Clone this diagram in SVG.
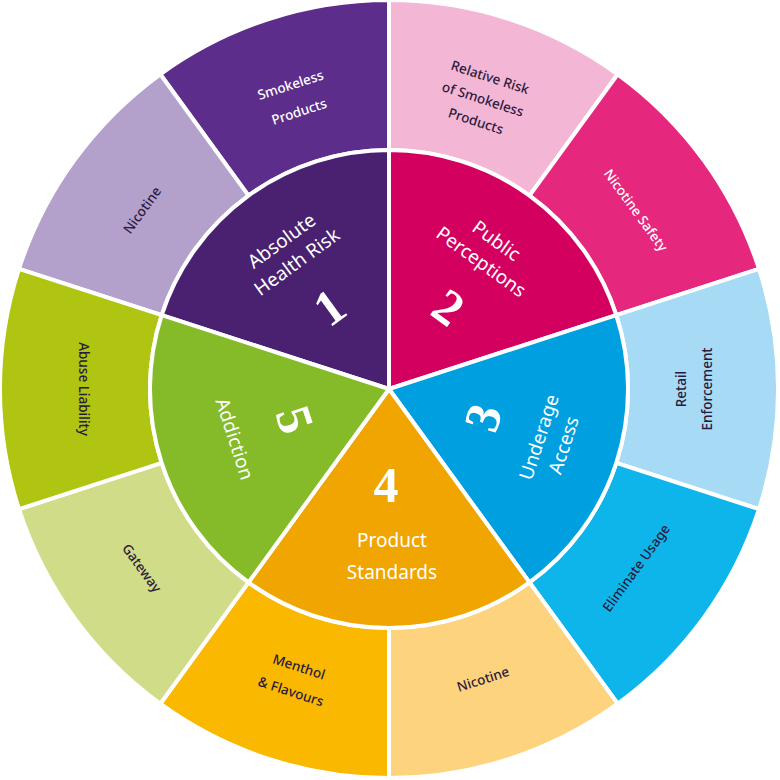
<svg xmlns="http://www.w3.org/2000/svg" width="780" height="780" viewBox="0 0 780 780">
<style>
.s{stroke:#fff;stroke-width:4;stroke-linejoin:round}
.o{font-family:"Noto Sans",sans-serif;font-size:13.5px;font-weight:500;text-anchor:middle;fill:#2a1b3d}
.w{fill:#fff}
.i{font-family:"Noto Sans",sans-serif;font-size:19px;text-anchor:middle;fill:#fff}
.n{font-family:"Liberation Serif",serif;font-size:50px;font-weight:bold;text-anchor:middle;fill:#fff}
</style>
<rect width="780" height="780" fill="#fff"/>
<g id="seg1">
<path class="s" fill="#5C2D8A" d="M248.5,195.6 L160.3,74.3 A389,389 0 0 1 389,0 L389,150 A239,239 0 0 0 248.5,195.6Z"/>
<path class="s" fill="#B3A1CC" d="M161.7,315.1 L19,268.8 A389,389 0 0 1 160.3,74.3 L248.5,195.6 A239,239 0 0 0 161.7,315.1Z"/>
<path class="s" fill="#4A2071" d="M389,389 L161.7,315.1 A239,239 0 0 1 389,150Z"/>
<text class="o w" transform="translate(295,99) rotate(-18)"><tspan x="0" y="-10">Smokeless</tspan><tspan x="0" y="18">Products</tspan></text>
<text class="o" transform="translate(142,210) rotate(-54)" y="5">Nicotine</text>
<text class="i" transform="translate(289,251) rotate(-36)"><tspan x="0" y="-6">Absolute</tspan><tspan x="0" y="20">Health Risk</tspan></text>
<text class="n" transform="translate(330,308) rotate(-36)" y="16">1</text>
</g>
<g id="seg2">
<path class="s" fill="#F4B6D5" d="M389,150 L389,0 A389,389 0 0 1 617.7,74.3 L529.5,195.6 A239,239 0 0 0 389,150Z"/>
<path class="s" fill="#E5287E" d="M529.5,195.6 L617.7,74.3 A389,389 0 0 1 759,268.8 L616.3,315.1 A239,239 0 0 0 529.5,195.6Z"/>
<path class="s" fill="#D4005F" d="M389,389 L389,150 A239,239 0 0 1 616.3,315.1Z"/>
<text class="o" transform="translate(483,99) rotate(18)"><tspan x="0" y="-18">Relative Risk</tspan><tspan x="0" y="5">of Smokeless</tspan><tspan x="0" y="28">Products</tspan></text>
<text class="o w" transform="translate(636,210) rotate(54)" y="5">Nicotine Safety</text>
<text class="i" transform="translate(489,251) rotate(36)"><tspan x="0" y="-6">Public</tspan><tspan x="0" y="20">Perceptions</tspan></text>
<text class="n" transform="translate(448,308) rotate(36)" y="16">2</text>
</g>
<g id="seg3">
<path class="s" fill="#A6DAF5" d="M616.3,315.1 L759,268.8 A389,389 0 0 1 759,509.2 L616.3,462.9 A239,239 0 0 0 616.3,315.1Z"/>
<path class="s" fill="#0DB5EA" d="M616.3,462.9 L759,509.2 A389,389 0 0 1 617.7,703.7 L529.5,582.4 A239,239 0 0 0 616.3,462.9Z"/>
<path class="s" fill="#009FDF" d="M389,389 L616.3,315.1 A239,239 0 0 1 529.5,582.4Z"/>
<text class="o" transform="translate(694,389) rotate(-90)"><tspan x="0" y="-8">Retail</tspan><tspan x="0" y="18">Enforcement</tspan></text>
<text class="o" transform="translate(636,568) rotate(-54)" y="5">Eliminate Usage</text>
<text class="i" transform="translate(551,441) rotate(-72)"><tspan x="0" y="-6">Underage</tspan><tspan x="0" y="20">Access</tspan></text>
<text class="n" transform="translate(484,418) rotate(-72)" y="16">3</text>
</g>
<g id="seg4">
<path class="s" fill="#FDD37D" d="M529.5,582.4 L617.7,703.7 A389,389 0 0 1 389,778 L389,628 A239,239 0 0 0 529.5,582.4Z"/>
<path class="s" fill="#FAB800" d="M389,628 L389,778 A389,389 0 0 1 160.3,703.7 L248.5,582.4 A239,239 0 0 0 389,628Z"/>
<path class="s" fill="#F0A500" d="M389,389 L529.5,582.4 A239,239 0 0 1 248.5,582.4Z"/>
<text class="o" transform="translate(483,679) rotate(-18)" y="5">Nicotine</text>
<text class="o" transform="translate(295,679) rotate(18)"><tspan x="0" y="-8">Menthol</tspan><tspan x="0" y="18">&amp; Flavours</tspan></text>
<text class="i"><tspan x="392" y="547">Product</tspan><tspan x="392" y="579">Standards</tspan></text>
<text class="n" x="386" y="502">4</text>
</g>
<g id="seg5">
<path class="s" fill="#D0DC87" d="M248.5,582.4 L160.3,703.7 A389,389 0 0 1 19,509.2 L161.7,462.9 A239,239 0 0 0 248.5,582.4Z"/>
<path class="s" fill="#B0C412" d="M161.7,462.9 L19,509.2 A389,389 0 0 1 19,268.8 L161.7,315.1 A239,239 0 0 0 161.7,462.9Z"/>
<path class="s" fill="#85BB28" d="M389,389 L248.5,582.4 A239,239 0 0 1 161.7,315.1Z"/>
<text class="o" transform="translate(142,568) rotate(54)" y="5">Gateway</text>
<text class="o" transform="translate(84,389) rotate(90)" y="5">Abuse Liability</text>
<text class="i" transform="translate(234,439) rotate(72)" y="6">Addiction</text>
<text class="n" transform="translate(294,420) rotate(72)" y="16">5</text>
</g>
<g id="connectors"/>
</svg>
